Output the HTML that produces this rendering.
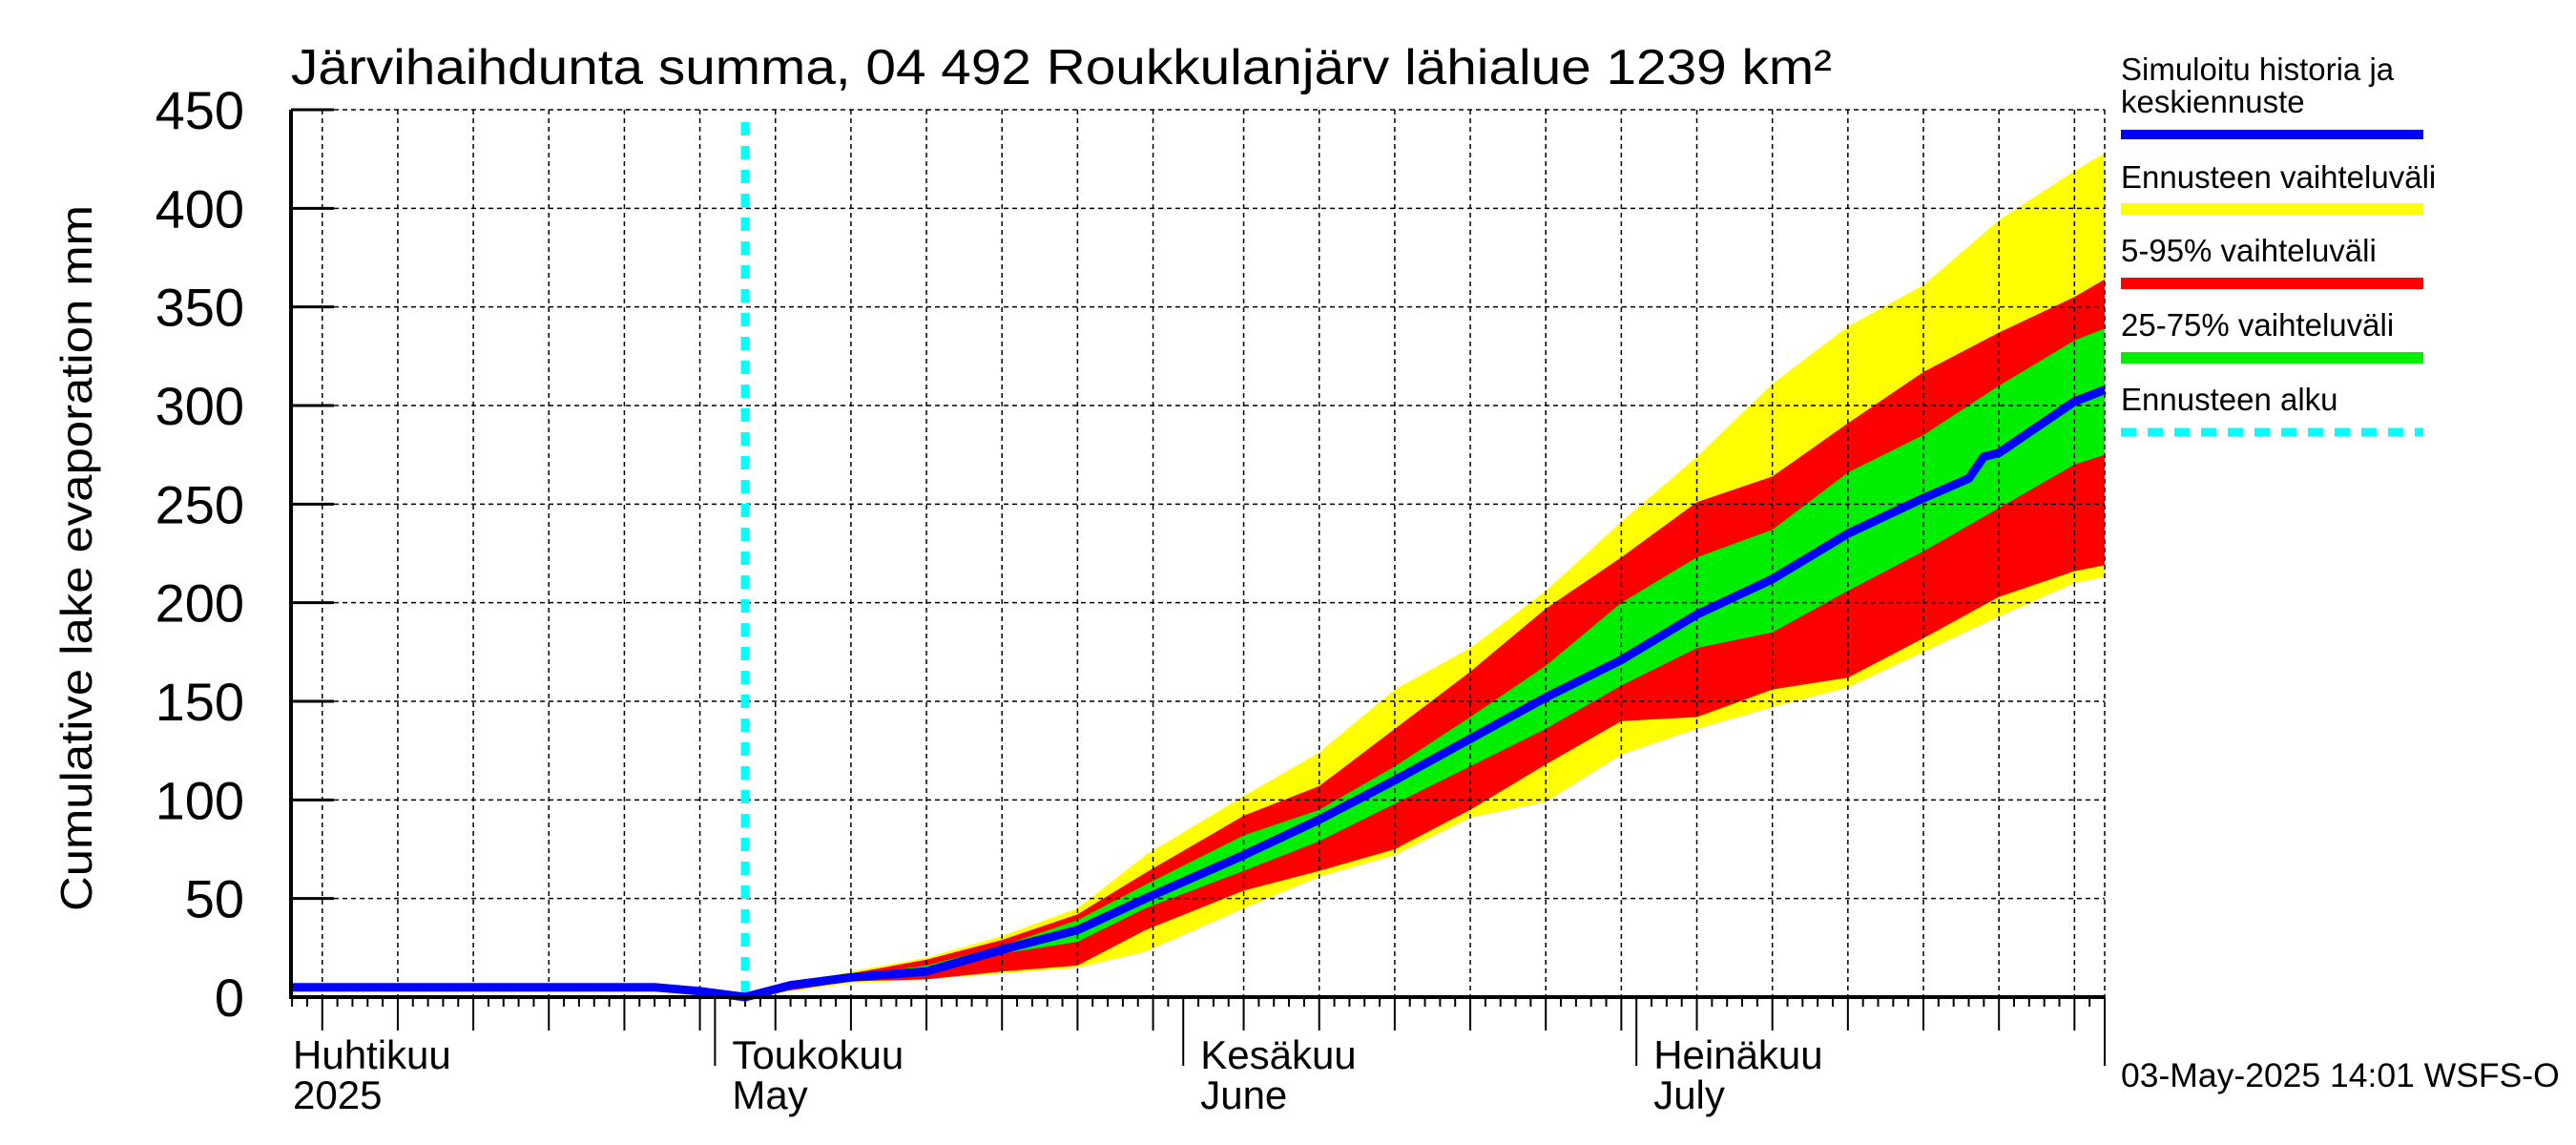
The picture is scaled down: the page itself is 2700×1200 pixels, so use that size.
<!DOCTYPE html>
<html><head><meta charset="utf-8"><style>
body{margin:0;background:#fff}
svg{display:block;font-family:"Liberation Sans",sans-serif}
</style></head><body>
<svg id="chart" width="2700" height="1200" viewBox="0 0 2700 1200" xmlns="http://www.w3.org/2000/svg">
<rect width="2700" height="1200" fill="#fff"/>
<g id="bands"></g>
<g id="grid"></g>
<g id="lines"></g>
<g id="axes"></g>
<text x="305" y="88" font-size="52" textLength="1615" lengthAdjust="spacingAndGlyphs">Järvihaihdunta summa, 04 492 Roukkulanjärv lähialue 1239 km²</text>
<text transform="translate(96,585) rotate(-90)" text-anchor="middle" font-size="46" textLength="740" lengthAdjust="spacingAndGlyphs">Cumulative lake evaporation   mm</text>
<g font-size="33">
<text x="2223" y="84">Simuloitu historia ja</text>
<text x="2223" y="118">keskiennuste</text>
<rect x="2223" y="136" width="317" height="10" fill="#0000ff"/>
<text x="2223" y="197">Ennusteen vaihteluväli</text>
<rect x="2223" y="213" width="317" height="12" fill="#ffff00"/>
<text x="2223" y="274">5-95% vaihteluväli</text>
<rect x="2223" y="291" width="317" height="12" fill="#ff0000"/>
<text x="2223" y="352">25-75% vaihteluväli</text>
<rect x="2223" y="369" width="317" height="12" fill="#00ee00"/>
<text x="2223" y="430">Ennusteen alku</text>
<line x1="2223" y1="453" x2="2540" y2="453" stroke="#00ffff" stroke-width="9" stroke-dasharray="16,12"/>
</g>
<text x="2223" y="1139" font-size="35.5">03-May-2025 14:01 WSFS-O</text>
</svg>
<script>
const bandDays=[32,39,44,49,54,58.5,65,70,75,80,85,90,95,100,105,110,115,120,122];
const yellowTop=[0,13,20,31,45,72,102,124,156,177,206,241,274,311,340,361,394,419,428];
const redTop=[0,12,19,29,42,63,92,107,136,165,197,223,251,264,291,317,337,355,364];
const greenTop=[0,11,16,26,39,57,82,95,117,142,168,200,223,237,266,285,310,333,339];
const greenBot=[0,9,11,22,28,45,64,79,98,117,136,158,177,185,206,226,248,270,275];
const redBot=[0,8,9,13,16,34,54,64,75,95,118,140,142,156,162,182,203,216,219];
const yellowBot=[0,7,9,12,15,23,45,61,72,91,99,123,136,147,157,175,193,210,213];
const medDays=[2,26,29,32,35,39,44,49,54,58.5,65,70,75,80,85,90,95,100,105,110,113,114,115,120,122];
const medVals=[5,5,3,0,6,10,13,24,34,50,72,90,110,131,152,171,194,212,235,253,263,274,276,302,308];
const yTicks=[0,50,100,150,200,250,300,350,400,450];
const months=[{n:"Huhtikuu",s:"2025",start:0,len:30},{n:"Toukokuu",s:"May",start:30,len:31},{n:"Kesäkuu",s:"June",start:61,len:30},{n:"Heinäkuu",s:"July",start:91,len:31}];
const forecastDay=32;
const X0=305,X1=2206,Y0=1045,Y1=115;
const dayMin=1.93,dayMax=122;
function xs(d){return X0+(d-dayMin)*(X1-X0)/(dayMax-dayMin);}
function ys(v){return Y0-v*(Y0-Y1)/450;}
const NS="http://www.w3.org/2000/svg";
function mk(t,a,p){const e=document.createElementNS(NS,t);for(const k in a)e.setAttribute(k,a[k]);p.appendChild(e);return e;}
const bands=document.getElementById('bands'),grid=document.getElementById('grid'),lines=document.getElementById('lines'),axes=document.getElementById('axes');
function band(top,bot,col,name){
  let d="";bandDays.forEach((dd,i)=>{d+=(i?"L":"M")+xs(dd).toFixed(1)+","+ys(top[i]).toFixed(1);});
  for(let i=bandDays.length-1;i>=0;i--)d+="L"+xs(bandDays[i]).toFixed(1)+","+ys(bot[i]).toFixed(1);
  const p=mk('path',{d:d+"Z",fill:col},bands);
  
  
}
band(yellowTop,yellowBot,'#ffff00','band-forecast-range');
band(redTop,redBot,'#ff0000','band-5-95');
band(greenTop,greenBot,'#00ee00','band-25-75');
yTicks.forEach(v=>{
  if(v>0){const g=mk('line',{x1:X0,x2:X1,y1:ys(v),y2:ys(v),stroke:'#000','stroke-width':1.5,'stroke-dasharray':'5,4'},grid);
  
  }
  const t=mk('line',{x1:X0,x2:X0+45,y1:ys(v),y2:ys(v),stroke:'#000','stroke-width':3},axes);
  
  
  const l=mk('text',{x:256,y:ys(v)+20,'text-anchor':'end','font-size':56},axes);
  l.textContent=v;
  
  
});
months.forEach(m=>{
  for(let d=0;d<m.len;d++){
    const day=m.start+d;const x=xs(day);
    if(x<X0-1||x>X1+1)continue;
    const dom=d+1;let len=10;
    if(dom%5===0){len=35;
      const g=mk('line',{x1:x,x2:x,y1:Y1,y2:Y0,stroke:'#000','stroke-width':1.5,'stroke-dasharray':'5,4'},grid);
      
      }
    if(d===0)len=72;
    const t=mk('line',{x1:x,x2:x,y1:Y0,y2:Y0+len,stroke:'#000','stroke-width':2},axes);
    
    
  }
  const lx=Math.max(xs(m.start),X0)+ (m.start===0?2:18);
  const a=mk('text',{x:lx,y:1120,'font-size':42},axes);a.textContent=m.n;
  
  
  const b=mk('text',{x:lx,y:1162,'font-size':42},axes);b.textContent=m.s;
  
  
});
const eT=mk('line',{x1:X1,x2:X1,y1:Y0,y2:Y0+72,stroke:'#000','stroke-width':2},axes);


const rb=mk('line',{x1:X1,x2:X1,y1:Y1,y2:Y0,stroke:'#000','stroke-width':1.5,'stroke-dasharray':'5,4'},grid);


const fx=xs(forecastDay);
const fl=mk('line',{x1:fx,x2:fx,y1:128,y2:Y0,stroke:'#00ffff','stroke-width':9,'stroke-dasharray':'14,11'},lines);


let md="";medDays.forEach((d,i)=>{md+=(i?"L":"M")+xs(d).toFixed(1)+","+ys(medVals[i]).toFixed(1);});
const ml=mk('path',{d:md,fill:'none',stroke:'#0000ff','stroke-width':9,'stroke-linejoin':'round'},lines);


const ya=mk('line',{x1:X0,x2:X0,y1:Y1,y2:Y0+2,stroke:'#000','stroke-width':4},axes);


const xa=mk('line',{x1:X0,x2:X1,y1:Y0,y2:Y0,stroke:'#000','stroke-width':4},axes);


</script>
</body></html>
